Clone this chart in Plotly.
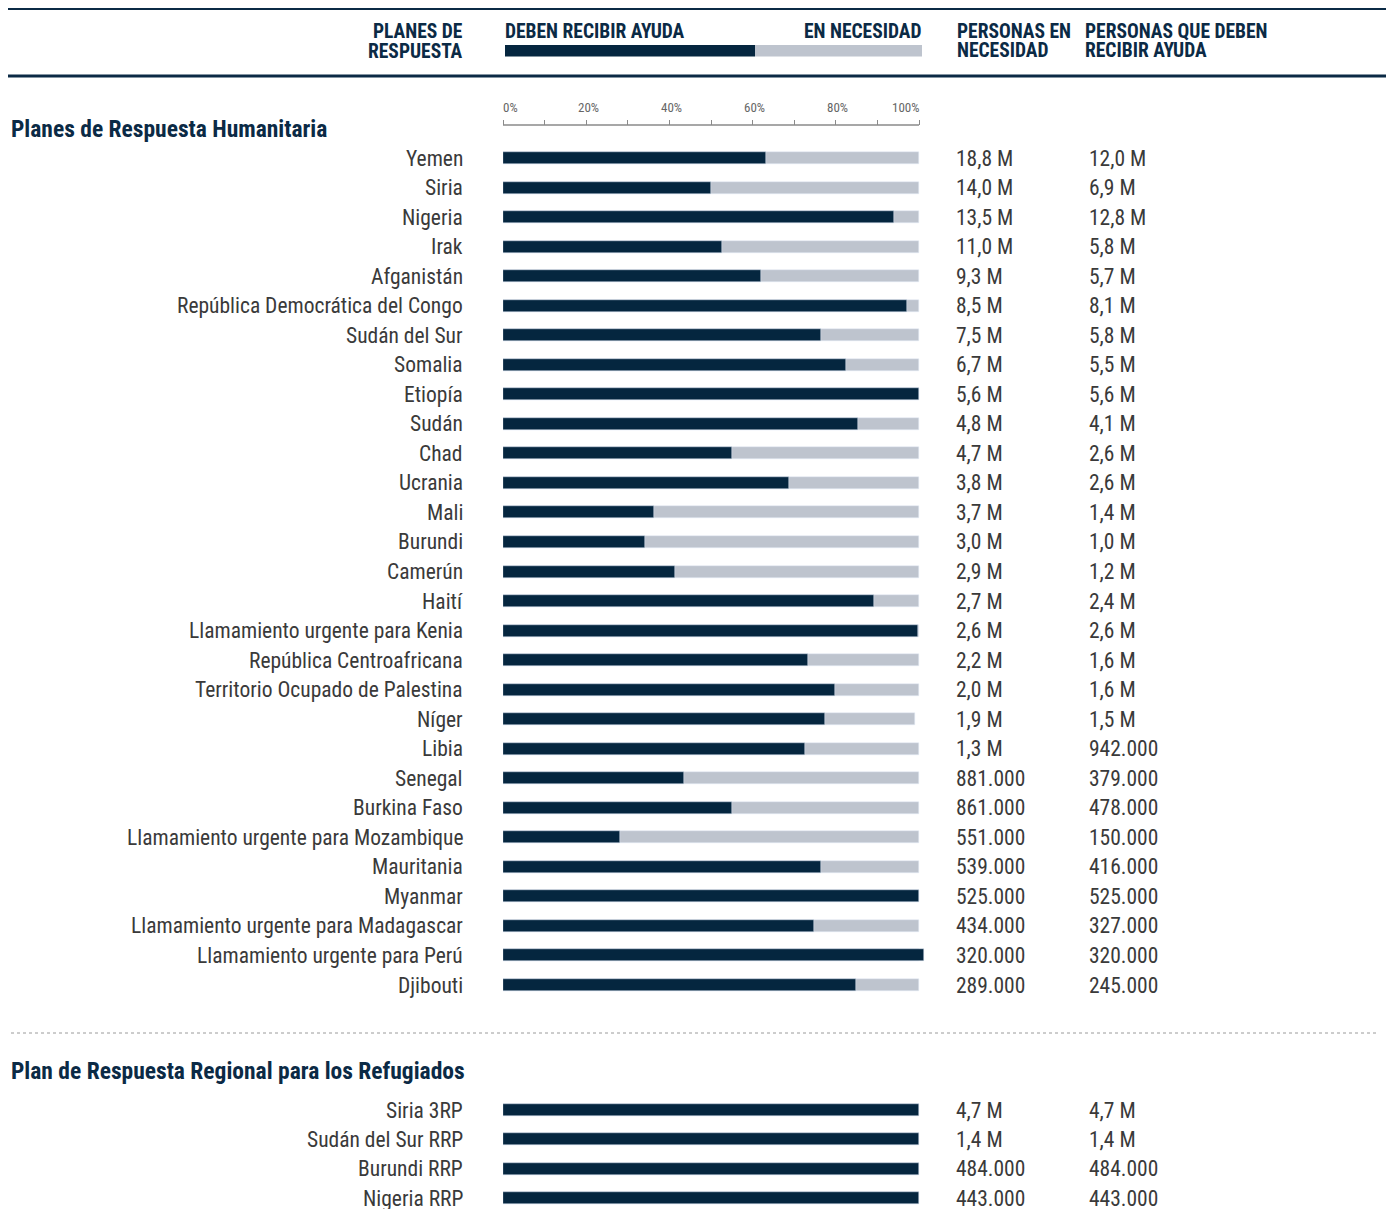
import plotly.graph_objects as go

# ---------------- data ----------------
plans = ["Yemen", "Siria", "Nigeria", "Irak", "Afganistán",
         "República Democrática del Congo", "Sudán del Sur", "Somalia", "Etiopía",
         "Sudán", "Chad", "Ucrania", "Mali", "Burundi", "Camerún", "Haití",
         "Llamamiento urgente para Kenia", "República Centroafricana",
         "Territorio Ocupado de Palestina", "Níger", "Libia", "Senegal",
         "Burkina Faso", "Llamamiento urgente para Mozambique", "Mauritania",
         "Myanmar", "Llamamiento urgente para Madagascar",
         "Llamamiento urgente para Perú", "Djibouti"]
people_in_need = ["18,8 M", "14,0 M", "13,5 M", "11,0 M", "9,3 M", "8,5 M", "7,5 M",
                  "6,7 M", "5,6 M", "4,8 M", "4,7 M", "3,8 M", "3,7 M", "3,0 M",
                  "2,9 M", "2,7 M", "2,6 M", "2,2 M", "2,0 M", "1,9 M", "1,3 M",
                  "881.000", "861.000", "551.000", "539.000", "525.000", "434.000",
                  "320.000", "289.000"]
people_targeted = ["12,0 M", "6,9 M", "12,8 M", "5,8 M", "5,7 M", "8,1 M", "5,8 M",
                   "5,5 M", "5,6 M", "4,1 M", "2,6 M", "2,6 M", "1,4 M", "1,0 M",
                   "1,2 M", "2,4 M", "2,6 M", "1,6 M", "1,6 M", "1,5 M", "942.000",
                   "379.000", "478.000", "150.000", "416.000", "525.000", "327.000",
                   "320.000", "245.000"]
pct_targeted = [63.2, 50.0, 94.0, 52.6, 62.0, 97.1, 76.4, 82.5, 100.0, 85.3, 55.0,
                68.8, 36.3, 34.1, 41.3, 89.2, 99.8, 73.3, 79.8, 77.4, 72.6, 43.5,
                55.0, 28.1, 76.4, 100.0, 74.8, 101.2, 84.9]
pct_need = [100, 100, 100, 100, 100, 100, 100, 100, 100, 100, 100, 100, 100, 100,
            100, 100, 100, 100, 100, 99.0, 100, 100, 100, 100, 100, 100, 100, 100, 100]

refugee_plans = ["Siria 3RP", "Sudán del Sur RRP", "Burundi RRP", "Nigeria RRP"]
refugee_need = ["4,7 M", "1,4 M", "484.000", "443.000"]
refugee_targeted = ["4,7 M", "1,4 M", "484.000", "443.000"]
refugee_pct_targeted = [100, 100, 100, 100]
refugee_pct_need = [100, 100, 100, 100]

axis_ticks = [0, 20, 40, 60, 80, 100]
axis_ticktext = ["0%", "20%", "40%", "60%", "80%", "100%"]
axis_minor_ticks = [10, 30, 50, 70, 90]

section_titles = ["Planes de Respuesta Humanitaria",
                  "Plan de Respuesta Regional para los Refugiados"]

# ---------------- style ----------------
W, H = 1394, 1209
OFF = 8  # page body margin: figure content starts 8px in
FONT = "Roboto Condensed, Liberation Sans Narrow, Arial Narrow, DejaVu Sans Condensed, Roboto, sans-serif"
DARK = "#05263f"
GRAY = "#bec4ce"
NAVY = "#0b2a45"
TXT = "#3a3a3a"


def px(x):
    return (x - OFF) / W


def py(y):
    return 1 - (y - OFF) / H


X0, X100 = 503, 919
XEND = 930
xmax = (XEND - X0) / (X100 - X0) * 100


def yrange(top_px, bot_px, first_px, step):
    return [(bot_px - first_px) / step, (top_px - first_px) / step]


fig = go.Figure()

idx1 = list(range(len(plans)))
fig.add_trace(go.Bar(y=idx1, x=pct_need, orientation="h", marker_color=GRAY,
                     width=0.406, xaxis="x", yaxis="y", hoverinfo="skip",
                     showlegend=False))
fig.add_trace(go.Bar(y=idx1, x=pct_targeted, orientation="h", marker_color=DARK,
                     width=0.406, xaxis="x", yaxis="y", showlegend=False,
                     customdata=plans, hovertemplate="%{customdata}: %{x}%<extra></extra>"))
idx2 = list(range(len(refugee_plans)))
fig.add_trace(go.Bar(y=idx2, x=refugee_pct_need, orientation="h", marker_color=GRAY,
                     width=0.409, xaxis="x2", yaxis="y2", hoverinfo="skip",
                     showlegend=False))
fig.add_trace(go.Bar(y=idx2, x=refugee_pct_targeted, orientation="h", marker_color=DARK,
                     width=0.409, xaxis="x2", yaxis="y2", showlegend=False,
                     customdata=refugee_plans,
                     hovertemplate="%{customdata}: %{x}%<extra></extra>"))

s1 = (985 - 158) / 28
s2 = (1198 - 1110) / 3
T1, B1 = 140, 1000
T2, B2 = 1090, 1209

LBL = dict(size=21.5, color=TXT, family=FONT)
annotations = []
for i, name in enumerate(plans):
    annotations.append(dict(x=px(465), y=i, xref="paper", yref="y", text=name,
                            xanchor="right", yanchor="middle", showarrow=False, font=LBL))
    annotations.append(dict(x=px(954), y=i, xref="paper", yref="y", text=people_in_need[i],
                            xanchor="left", yanchor="middle", showarrow=False, font=LBL))
    annotations.append(dict(x=px(1087), y=i, xref="paper", yref="y", text=people_targeted[i],
                            xanchor="left", yanchor="middle", showarrow=False, font=LBL))
for i, name in enumerate(refugee_plans):
    annotations.append(dict(x=px(465), y=i, xref="paper", yref="y2", text=name,
                            xanchor="right", yanchor="middle", showarrow=False, font=LBL))
    annotations.append(dict(x=px(954), y=i, xref="paper", yref="y2", text=refugee_need[i],
                            xanchor="left", yanchor="middle", showarrow=False, font=LBL))
    annotations.append(dict(x=px(1087), y=i, xref="paper", yref="y2", text=refugee_targeted[i],
                            xanchor="left", yanchor="middle", showarrow=False, font=LBL))

# percentage scale labels, placed on the x axis scale
TICKF = dict(size=13, color="#666666", family=FONT)
for v, t in zip(axis_ticks, axis_ticktext):
    if v == axis_ticks[0]:
        anc, sh = "left", -2
    elif v == axis_ticks[-1]:
        anc, sh = "right", 2
    else:
        anc, sh = "center", 2
    annotations.append(dict(x=v, y=py(107), xref="x", yref="paper", text=t,
                            xanchor=anc, yanchor="middle", xshift=sh,
                            showarrow=False, font=TICKF))

TTL = dict(size=23.5, color=NAVY, family=FONT)
annotations.append(dict(x=px(9), y=py(129), xref="paper", yref="paper",
                        text="<b>" + section_titles[0] + "</b>", xanchor="left",
                        yanchor="middle", showarrow=False, font=TTL))
annotations.append(dict(x=px(9), y=py(1071), xref="paper", yref="paper",
                        text="<b>" + section_titles[1] + "</b>", xanchor="left",
                        yanchor="middle", showarrow=False, font=TTL))

hdr = dict(size=19.5, color=NAVY, family=FONT)
header_items = [
    ("PLANES DE", 465, 32, "right"), ("RESPUESTA", 465, 51, "right"),
    ("DEBEN RECIBIR AYUDA", 503, 32, "left"), ("EN NECESIDAD", 923, 32, "right"),
    ("PERSONAS EN", 955, 32, "left"), ("NECESIDAD", 955, 50.5, "left"),
    ("PERSONAS QUE DEBEN", 1083, 32, "left"), ("RECIBIR AYUDA", 1083, 50.5, "left"),
]
for t, x, y, anc in header_items:
    annotations.append(dict(x=px(x), y=py(y), xref="paper", yref="paper",
                            text="<b>" + t + "</b>", xanchor=anc, yanchor="middle",
                            showarrow=False, font=hdr))

shapes = [
    dict(type="line", xref="paper", yref="paper", x0=px(8), x1=px(1392),
         y0=py(8.5), y1=py(8.5), line=dict(color=NAVY, width=3)),
    dict(type="line", xref="paper", yref="paper", x0=px(8), x1=px(1392),
         y0=py(76), y1=py(76), line=dict(color=NAVY, width=3)),
    dict(type="rect", xref="paper", yref="paper", x0=px(505), x1=px(755),
         y0=py(56.5), y1=py(45), fillcolor=DARK, line=dict(width=0)),
    dict(type="rect", xref="paper", yref="paper", x0=px(755), x1=px(922),
         y0=py(56.5), y1=py(45), fillcolor=GRAY, line=dict(width=0)),
    dict(type="line", xref="x", yref="paper", x0=0, x1=100, y0=py(125), y1=py(125),
         line=dict(color="#8a8a8a", width=1.3)),
    dict(type="line", xref="paper", yref="paper", x0=px(11), x1=px(1376),
         y0=py(1033), y1=py(1033), line=dict(color="#9a9a9a", width=1, dash="dot")),
]

fig.update_layout(
    width=W, height=H, margin=dict(l=0, r=0, t=0, b=0),
    paper_bgcolor="white", plot_bgcolor="rgba(0,0,0,0)",
    barmode="overlay", bargap=0,
    font=dict(family=FONT, color=TXT),
    xaxis=dict(domain=[px(X0), px(XEND)], range=[0, xmax], anchor="free",
               position=py(125), side="top", showgrid=False, zeroline=False,
               showline=False, tickvals=axis_ticks, showticklabels=False,
               ticks="outside", ticklen=5, tickcolor="#8a8a8a", tickwidth=1,
               minor=dict(tickvals=axis_minor_ticks, ticks="outside", ticklen=5,
                          tickcolor="#8a8a8a", tickwidth=1, showgrid=False),
               fixedrange=True),
    yaxis=dict(domain=[py(B1), py(T1)], range=yrange(T1, B1, 158, s1), visible=False,
               fixedrange=True),
    xaxis2=dict(domain=[px(X0), px(XEND)], range=[0, xmax], anchor="y2", visible=False,
                fixedrange=True),
    yaxis2=dict(domain=[max(0, py(B2)), py(T2)],
                range=yrange(T2, B2 if py(B2) >= 0 else H + OFF, 1110, s2),
                visible=False, anchor="x2", fixedrange=True),
    annotations=annotations, shapes=shapes,
)

fig.write_html("out.html")
